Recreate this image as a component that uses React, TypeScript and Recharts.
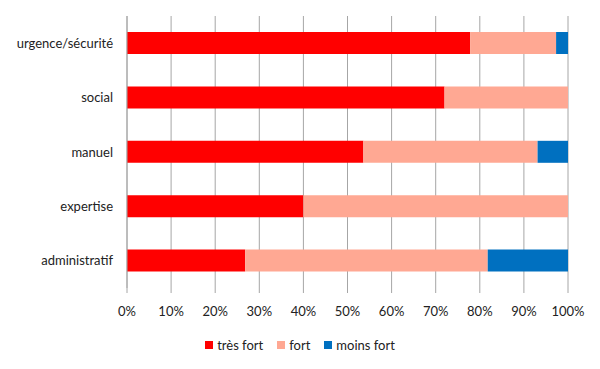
import { BarChart, Bar, XAxis, YAxis, CartesianGrid, Legend } from 'recharts';

const categories = ['urgence/sécurité', 'social', 'manuel', 'expertise', 'administratif'];
const tresFort = [0.778, 0.72, 0.536, 0.40, 0.268];
const fort = [0.195, 0.28, 0.395, 0.60, 0.550];
const moinsFort = [0.027, 0, 0.069, 0, 0.182];
const xTicks = [0, 0.1, 0.2, 0.3, 0.4, 0.5, 0.6, 0.7, 0.8, 0.9, 1];
const edgeTicks = [0, 1, 2, 3, 4, 5];

const series = [
  { key: 'tresFort', label: 'très fort', color: '#FF0000' },
  { key: 'fort', label: 'fort', color: '#FFA893' },
  { key: 'moinsFort', label: 'moins fort', color: '#0070C0' },
];

const data = categories.map((name, i) => ({
  name,
  tresFort: tresFort[i],
  fort: fort[i],
  moinsFort: moinsFort[i],
}));

const FONT = 'Lato, "Open Sans", sans-serif';
const GRID = '#A6A6A6';

function LegendContent() {
  return (
    <div style={{ width: 600, display: 'flex', justifyContent: 'center', fontFamily: FONT, fontSize: 13, color: '#222' }}>
      {series.map((s) => (
        <div key={s.key} style={{ display: 'flex', alignItems: 'center', margin: '0 7px' }}>
          <span style={{ width: 8, height: 8, background: s.color, display: 'inline-block', marginRight: 4 }} />
          <span>{s.label}</span>
        </div>
      ))}
    </div>
  );
}

export default function App() {
  return (
    <div style={{ position: 'absolute', left: 0, top: 0, background: '#fff' }}>
      <BarChart
        width={600}
        height={369}
        data={data}
        layout="vertical"
        margin={{ top: 16, right: 32, left: 0, bottom: 12 }}
      >
        <CartesianGrid horizontal={false} stroke={GRID} yAxisId="cat" />
        <XAxis
          type="number"
          domain={[0, 1]}
          ticks={xTicks}
          tickFormatter={(v: number) => `${Math.round(v * 100)}%`}
          axisLine={false}
          tickLine={{ stroke: GRID }}
          tickSize={5}
          tickMargin={14}
          height={49}
          tick={{ fill: '#222', fontSize: 13, fontFamily: FONT }}
          interval={0}
        />
        <YAxis
          yAxisId="edge"
          type="number"
          domain={[0, 5]}
          ticks={edgeTicks}
          tick={false}
          tickLine={{ stroke: GRID }}
          tickSize={5}
          axisLine={false}
          width={0}
        />
        <YAxis
          yAxisId="cat"
          type="category"
          dataKey="name"
          axisLine={{ stroke: GRID }}
          tickLine={false}
          tickMargin={8}
          width={127}
          tick={{ fill: '#222', fontSize: 13, fontFamily: FONT }}
        />
        <Legend
          verticalAlign="bottom"
          height={20}
          content={<LegendContent />}
          wrapperStyle={{ left: 0, width: 600 }}
        />
        {series.map((s) => (
          <Bar
            key={s.key}
            yAxisId="cat"
            dataKey={s.key}
            name={s.label}
            stackId="a"
            fill={s.color}
            barSize={22}
            isAnimationActive={false}
          />
        ))}
      </BarChart>
    </div>
  );
}
